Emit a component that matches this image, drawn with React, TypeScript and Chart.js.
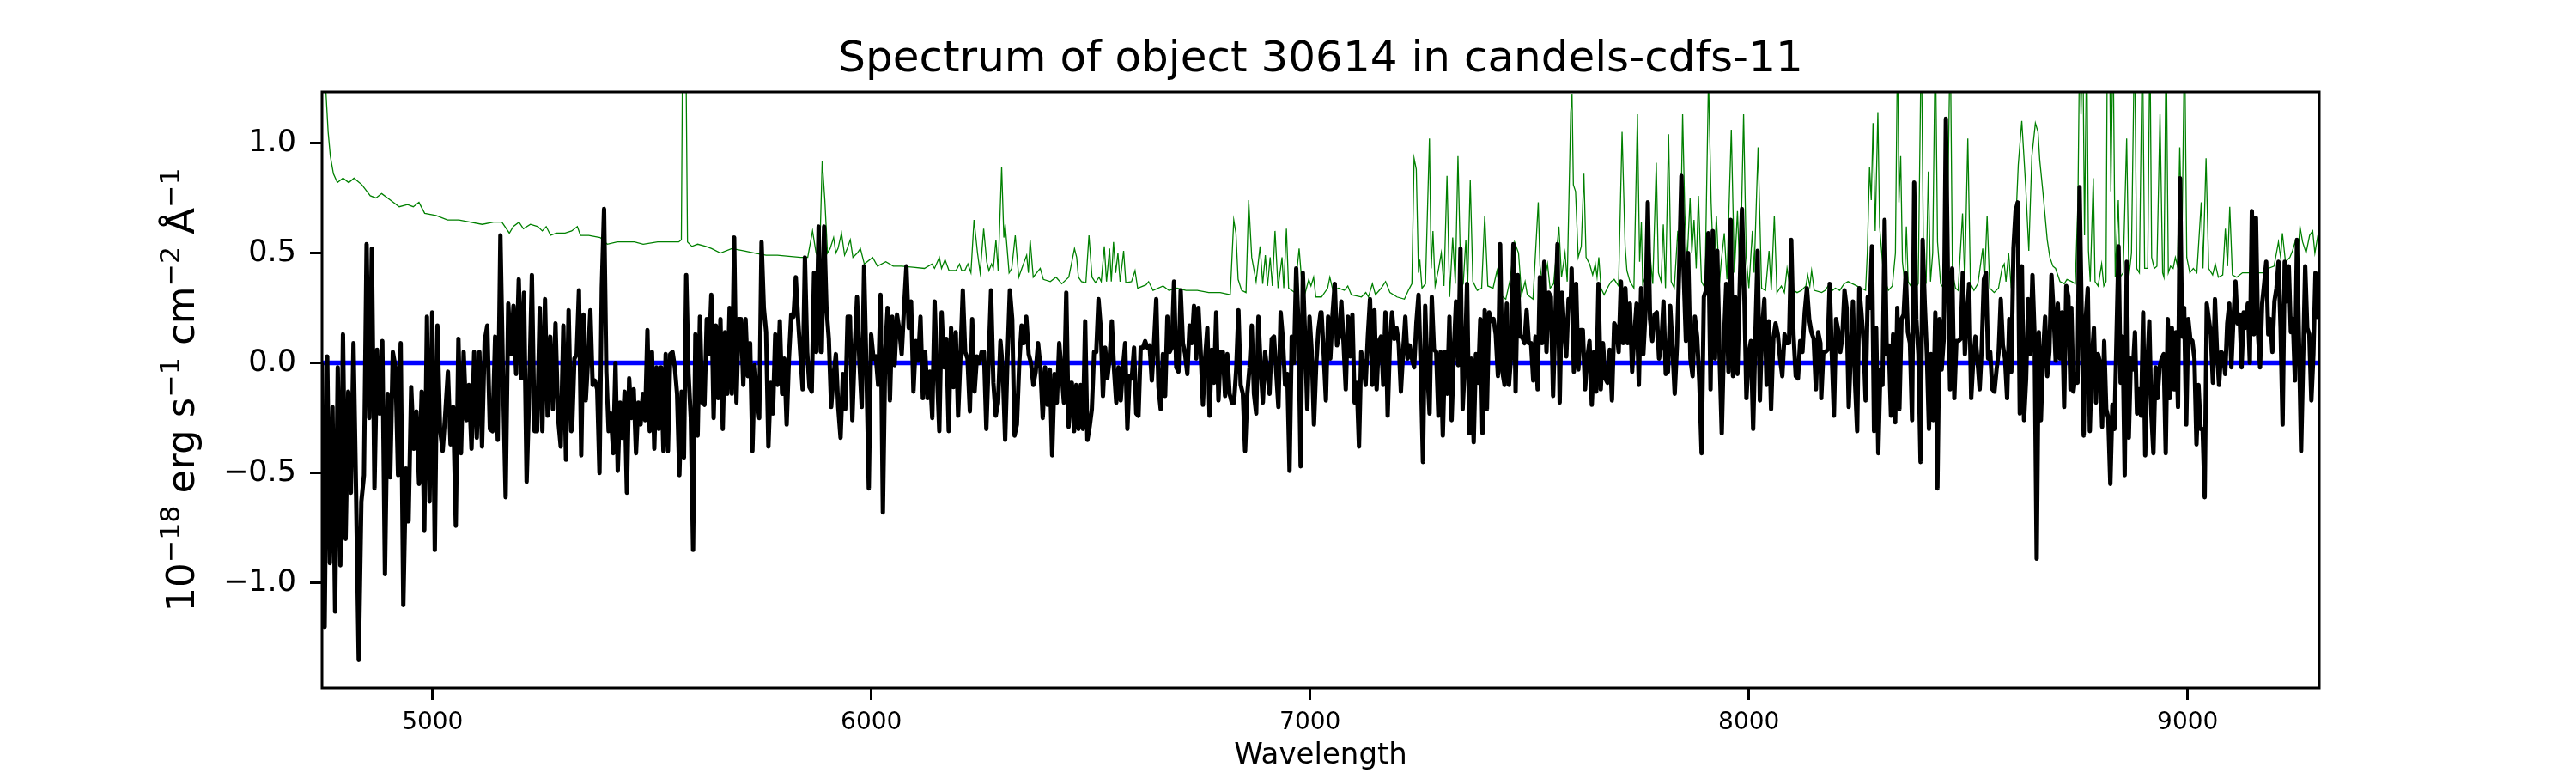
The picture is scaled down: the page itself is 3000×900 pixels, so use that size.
import React, { useEffect, useRef } from 'react';
import { Chart, registerables } from 'chart.js';

Chart.register(...registerables);

const TITLE = 'Spectrum of object 30614 in candels-cdfs-11';
const X_LABEL = 'Wavelength';
const Y_LABEL_PARTS: { text: string; sup: boolean }[] = [
  { text: '10', sup: false },
  { text: '\u221218', sup: true },
  { text: ' erg s', sup: false },
  { text: '\u22121', sup: true },
  { text: ' cm', sup: false },
  { text: '\u22122', sup: true },
  { text: ' \u00C5', sup: false },
  { text: '\u22121', sup: true },
];

const X_MIN = 4748;
const X_MAX = 9300;
const Y_MIN = -1.477;
const Y_MAX = 1.232;
const X_TICKS = [5000, 6000, 7000, 8000, 9000];
const Y_TICKS = [-1.0, -0.5, 0.0, 0.5, 1.0];
const ZERO_LEVEL = 0;

// wavelength span covered by each block of flux samples (samples evenly spread in the block)
const SEGMENT_RANGES: [number, number][] = [
  [4748, 5316], [5318, 5885], [5887, 6455], [6457, 7024],
  [7026, 7594], [7596, 8163], [8165, 8733], [8735, 9296],
];

const FLUX_SEG1 = [0.0, -1.2, 0.03, -0.91, -0.2, -1.13, -0.02, -0.92, 0.13, -0.8, -0.13, -0.59, 0.09, -0.6, -1.35, -0.63, -0.51, 0.54, -0.25, 0.52, -0.57, 0.06, -0.23, 0.1, -0.96, -0.14, -0.52, 0.05, -0.02, -0.51, 0.09, -1.1, -0.48, -0.72, -0.11, -0.39, -0.22, -0.55, -0.13, -0.76, 0.21, -0.63, 0.23, -0.85, 0.17, -0.3, -0.4, -0.23, -0.04, -0.37, -0.2, -0.74, 0.11, -0.41, 0.05, -0.26, -0.1, -0.39, 0.05, -0.34, 0.05, -0.38, 0.1, 0.17, -0.3, -0.31, 0.12, -0.35, 0.58, -0.07, -0.61, 0.27, 0.04, 0.26, -0.05, 0.38, -0.07, 0.32, -0.54, -0.13, 0.4, -0.31, -0.31, 0.25, -0.31, 0.29, -0.24, 0.12, -0.21, 0.18, -0.25, -0.38, 0.17, -0.44, 0.24, -0.31];
const FLUX_SEG2 = [-0.3, 0.02, 0.04, 0.33, -0.42, 0.22, -0.17, 0.02, 0.24, -0.1, -0.08, -0.12, -0.5, 0.34, 0.7, -0.04, -0.31, -0.23, -0.41, 0.0, -0.49, -0.18, -0.34, -0.13, -0.59, -0.07, -0.25, -0.12, -0.41, -0.18, -0.28, -0.14, -0.26, 0.15, -0.31, 0.05, -0.39, -0.02, -0.3, -0.02, -0.4, 0.04, -0.4, 0.04, 0.05, -0.02, -0.14, -0.51, -0.13, -0.43, 0.4, -0.05, -0.25, -0.85, 0.13, -0.33, 0.21, -0.18, -0.19, 0.2, 0.04, 0.31, -0.25, 0.17, -0.16, 0.2, -0.3, 0.14, -0.14, 0.25, -0.14, 0.57, -0.18, 0.2, 0.2, -0.1, 0.2, -0.06, 0.09, -0.4, -0.01, -0.16, -0.25, 0.55, 0.25, 0.14, -0.38, -0.09, -0.23, 0.13, -0.1, 0.19, -0.14, 0.02, -0.28, 0.02, 0.22, 0.21, 0.39, 0.2, 0.04, -0.12, 0.48, 0.05, -0.11, -0.13, 0.41, 0.05, 0.62, 0.05];
const FLUX_SEG3 = [0.05, 0.62, 0.25, 0.11, -0.2, -0.06, 0.04, -0.2, -0.34, -0.05, -0.21, 0.21, 0.21, -0.26, 0.06, 0.3, 0.01, -0.2, 0.44, -0.03, -0.57, 0.13, 0.02, 0.03, -0.1, 0.31, -0.68, 0.05, 0.25, -0.17, 0.21, -0.01, 0.22, 0.15, 0.04, 0.25, 0.44, 0.16, 0.28, -0.13, 0.1, 0.01, 0.21, -0.16, 0.05, -0.16, -0.04, -0.25, 0.28, -0.04, -0.31, 0.23, -0.02, 0.11, -0.31, 0.16, -0.11, 0.14, -0.24, 0.03, 0.33, 0.05, 0.02, -0.22, 0.2, -0.13, 0.03, 0.0, 0.05, 0.05, -0.3, 0.02, 0.33, -0.09, -0.24, -0.18, 0.1, -0.03, -0.35, 0.02, 0.33, 0.2, -0.33, -0.28, 0.0, 0.17, 0.09, 0.21, 0.04, 0.0, -0.1, -0.04, 0.09, -0.02, -0.25, -0.02, -0.19, -0.03, -0.42, -0.05, -0.18, 0.09, -0.04, -0.18, 0.32, -0.29, -0.09];
const FLUX_SEG4 = [-0.09, -0.31, -0.1, -0.3, -0.1, -0.3, 0.19, -0.35, -0.29, -0.21, 0.05, 0.05, 0.29, 0.16, -0.15, 0.07, -0.07, 0.02, 0.19, -0.03, -0.18, -0.02, -0.17, -0.02, 0.09, -0.3, -0.06, -0.07, 0.07, -0.23, -0.24, 0.07, 0.07, 0.1, 0.07, 0.08, -0.08, 0.09, 0.29, -0.11, -0.21, 0.04, -0.15, 0.21, 0.05, 0.07, 0.37, -0.02, -0.04, 0.33, 0.09, 0.04, -0.05, 0.17, 0.09, 0.26, 0.02, 0.25, 0.05, -0.19, 0.02, 0.16, -0.24, 0.06, -0.09, 0.23, -0.17, 0.05, 0.05, -0.15, 0.04, -0.14, -0.18, -0.18, -0.03, 0.24, -0.1, -0.14, -0.4, -0.14, -0.02, 0.17, -0.14, -0.23, 0.21, -0.02, -0.18, 0.05, -0.04, -0.14, 0.11, 0.12, -0.04, -0.2, 0.23, 0.11, -0.1, -0.05, -0.49, 0.12, 0.0, 0.43, 0.18, -0.47, 0.41, 0.12, -0.21, 0.21, 0.05, -0.28, -0.01, 0.15, 0.23];
const FLUX_SEG5 = [0.23, 0.04, -0.17, 0.21, 0.02, 0.22, 0.36, 0.08, 0.12, 0.28, 0.09, -0.12, 0.21, 0.03, 0.22, -0.18, -0.09, -0.38, 0.05, -0.01, -0.1, 0.12, 0.29, -0.1, 0.24, -0.12, 0.1, 0.12, -0.1, 0.23, -0.24, 0.09, 0.23, 0.11, 0.16, 0.09, -0.13, 0.05, 0.21, 0.02, 0.08, 0.02, -0.02, 0.18, 0.31, -0.02, -0.45, 0.26, -0.04, -0.23, 0.3, 0.06, 0.05, -0.24, 0.05, -0.33, 0.05, -0.14, 0.21, -0.26, 0.05, 0.28, -0.01, 0.52, -0.21, 0.0, 0.36, -0.32, 0.02, -0.36, 0.04, -0.09, 0.2, -0.32, 0.24, -0.21, 0.23, 0.19, 0.2, 0.13, -0.06, 0.54, -0.04, -0.1, 0.27, -0.1, 0.04, 0.54, -0.13, 0.4, 0.12, 0.12, 0.09, 0.24, 0.09, 0.09, -0.08, 0.12, -0.12, 0.39, 0.09, 0.46, 0.05, 0.32, 0.3, -0.15, 0.2, 0.54, -0.18, 0.32, 0.16, 0.03, 0.29, 0.27];
const FLUX_SEG6 = [0.43, -0.04, 0.36, -0.03, 0.15, 0.15, -0.12, 0.02, 0.1, -0.19, 0.05, -0.13, 0.36, -0.12, 0.09, -0.07, -0.09, 0.06, -0.17, 0.18, 0.16, 0.05, 0.37, 0.09, 0.34, 0.09, 0.27, -0.04, 0.13, 0.27, -0.1, 0.34, 0.04, 0.24, 0.73, 0.2, 0.1, 0.22, 0.23, 0.02, 0.08, 0.28, -0.05, -0.04, 0.26, 0.07, -0.14, 0.08, 0.43, 0.85, 0.41, 0.1, 0.5, 0.02, -0.06, 0.21, 0.12, -0.09, -0.41, 0.3, 0.33, 0.59, -0.12, 0.6, 0.02, 0.51, 0.04, -0.32, 0.11, 0.36, -0.04, 0.65, -0.06, 0.3, -0.05, 0.34, 0.7, 0.34, -0.16, 0.04, 0.1, -0.3, 0.13, 0.51, -0.17, 0.16, 0.29, -0.1, 0.19, -0.21, 0.11, 0.18, 0.13, 0.02, -0.06, 0.13, 0.09, 0.09, 0.56, 0.13, -0.06, -0.07, 0.1, 0.05, 0.23, 0.34, 0.2, 0.14, 0.11, -0.12, 0.14, 0.09];
const FLUX_SEG7 = [-0.16, 0.05, 0.05, 0.06, 0.36, 0.04, -0.24, 0.2, 0.15, 0.05, 0.12, 0.33, 0.25, -0.2, 0.05, 0.28, -0.09, -0.31, 0.34, 0.23, 0.1, -0.17, 0.3, 0.25, 0.53, -0.31, 0.16, -0.41, -0.03, -0.1, 0.65, 0.04, 0.08, -0.24, 0.13, -0.27, 0.25, -0.21, 0.2, 0.22, 0.41, 0.14, 0.09, -0.26, 0.82, 0.2, 0.04, -0.45, 0.56, 0.27, 0.04, -0.3, 0.04, -0.26, 0.23, -0.57, 0.2, -0.03, 0.11, 1.11, 0.37, -0.12, 0.43, -0.16, 0.1, 0.1, 0.11, 0.41, 0.04, 0.21, 0.36, -0.16, 0.02, 0.12, 0.01, -0.12, 0.07, 0.38, 0.41, 0.02, 0.05, -0.12, -0.13, -0.03, 0.05, 0.29, 0.08, 0.02, -0.16, 0.2, -0.04, 0.52, 0.69, 0.73, -0.23, 0.44, -0.26, -0.07, 0.29, 0.04, 0.4, 0.12, -0.89, 0.14, -0.26, 0.04, 0.21, -0.06, 0.05, 0.4, 0.23, 0.01, 0.27, 0.02, 0.23, -0.2, 0.35, 0.3, -0.12];
const FLUX_SEG8 = [0.25, -0.13, -0.05, -0.09, 0.8, 0.23, -0.33, 0.2, 0.34, -0.31, 0.02, 0.16, -0.18, 0.04, 0.0, -0.29, 0.1, -0.21, -0.25, -0.55, -0.19, -0.3, 0.11, 0.53, -0.09, 0.12, -0.51, 0.46, -0.34, 0.02, -0.03, 0.14, -0.23, -0.12, -0.24, 0.23, -0.42, -0.02, 0.19, -0.23, -0.41, -0.02, -0.16, -0.02, 0.02, 0.04, -0.41, 0.2, -0.16, 0.16, -0.12, 0.14, -0.2, 0.84, 0.12, 0.25, -0.28, 0.2, 0.11, 0.1, 0.02, -0.37, -0.1, -0.3, -0.3, -0.61, 0.27, 0.2, 0.13, -0.09, 0.29, 0.05, -0.1, 0.05, 0.04, -0.05, 0.18, 0.27, -0.02, 0.2, 0.37, 0.18, 0.22, -0.02, 0.23, 0.16, 0.27, 0.0, 0.69, 0.13, 0.66, 0.13, -0.02, 0.27, 0.36, 0.46, 0.13, 0.2, 0.05, 0.28, 0.34, 0.46, 0.16, -0.28, 0.46, 0.28, 0.44, 0.14, 0.2, -0.08, 0.56, 0.09, -0.4, 0.02, 0.44, 0.16, 0.13, -0.17, 0.04, 0.41, 0.2];

const FLUX_SEGMENTS = [FLUX_SEG1, FLUX_SEG2, FLUX_SEG3, FLUX_SEG4, FLUX_SEG5, FLUX_SEG6, FLUX_SEG7, FLUX_SEG8];

// error spectrum: [wavelength, value]
const ERROR_SPECTRUM: [number, number][] = [
  [4749, 2.0], [4757, 1.23], [4762, 1.05], [4767, 0.94], [4774, 0.86], [4783, 0.82], [4796, 0.84], [4809, 0.82], [4821, 0.84], [4839, 0.81], [4858, 0.76], [4871, 0.75], [4884, 0.77], [4904, 0.74], [4924, 0.71], [4943, 0.72], [4956, 0.71], [4969, 0.73], [4982, 0.68], [5008, 0.67], [5034, 0.65], [5060, 0.65], [5086, 0.64], [5113, 0.63], [5139, 0.64], [5158, 0.64], [5175, 0.59], [5184, 0.62], [5197, 0.64], [5207, 0.61], [5223, 0.63], [5240, 0.62], [5250, 0.6], [5259, 0.62], [5269, 0.58], [5282, 0.59], [5302, 0.59], [5317, 0.6],
  [5330, 0.62], [5337, 0.58], [5356, 0.58], [5382, 0.57], [5398, 0.54], [5421, 0.55], [5441, 0.55], [5460, 0.55], [5480, 0.54], [5513, 0.55], [5545, 0.55], [5561, 0.55], [5567, 0.56], [5570, 1.5], [5577, 1.5], [5581, 0.55], [5591, 0.53], [5604, 0.54], [5623, 0.53], [5636, 0.52], [5656, 0.5], [5682, 0.52], [5708, 0.51], [5734, 0.5], [5760, 0.49], [5786, 0.49], [5812, 0.485], [5839, 0.48], [5855, 0.48], [5866, 0.6], [5874, 0.5], [5879, 0.48], [5884, 0.62], [5888, 0.92],
  [5894, 0.74], [5900, 0.5], [5906, 0.52], [5914, 0.57], [5919, 0.5], [5924, 0.52], [5932, 0.59], [5939, 0.49], [5945, 0.52], [5952, 0.56], [5958, 0.48], [5968, 0.5], [5975, 0.52], [5984, 0.45], [6003, 0.48], [6014, 0.44], [6033, 0.46], [6050, 0.44], [6069, 0.44], [6095, 0.435], [6121, 0.43], [6138, 0.45], [6144, 0.43], [6155, 0.48], [6160, 0.43], [6168, 0.47], [6177, 0.42], [6193, 0.42], [6201, 0.45], [6206, 0.42], [6213, 0.42], [6220, 0.45], [6227, 0.41], [6234, 0.65], [6242, 0.5], [6248, 0.41], [6256, 0.61], [6263, 0.46], [6268, 0.42], [6274, 0.45], [6278, 0.43], [6284, 0.56], [6289, 0.42], [6297, 0.89], [6302, 0.57], [6305, 0.63], [6314, 0.41], [6320, 0.43], [6328, 0.58], [6336, 0.39], [6343, 0.43], [6354, 0.49], [6358, 0.41], [6362, 0.56], [6369, 0.39], [6385, 0.43], [6392, 0.38], [6408, 0.37], [6421, 0.39], [6434, 0.36], [6450, 0.39],
  [6463, 0.52], [6468, 0.48], [6472, 0.39], [6479, 0.37], [6489, 0.365], [6496, 0.58], [6503, 0.39], [6511, 0.365], [6519, 0.39], [6524, 0.37], [6531, 0.53], [6536, 0.37], [6543, 0.52], [6547, 0.37], [6552, 0.55], [6557, 0.41], [6562, 0.5], [6567, 0.37], [6575, 0.51], [6580, 0.365], [6593, 0.37], [6601, 0.42], [6607, 0.34], [6626, 0.355], [6632, 0.37], [6642, 0.33], [6665, 0.35], [6678, 0.33], [6697, 0.34], [6717, 0.33], [6743, 0.33], [6769, 0.32], [6795, 0.32], [6818, 0.31], [6826, 0.65], [6831, 0.59], [6836, 0.38], [6844, 0.33], [6854, 0.32], [6860, 0.74], [6867, 0.48], [6877, 0.37], [6886, 0.53], [6892, 0.36], [6898, 0.49], [6903, 0.35], [6909, 0.48], [6914, 0.35], [6920, 0.6], [6927, 0.34], [6936, 0.48], [6940, 0.34], [6946, 0.61], [6951, 0.34], [6965, 0.32], [6975, 0.52], [6981, 0.37], [6989, 0.32], [6997, 0.38], [7002, 0.35], [7008, 0.39], [7013, 0.3], [7026, 0.3],
  [7040, 0.34], [7045, 0.39], [7052, 0.33], [7065, 0.34], [7078, 0.33], [7086, 0.35], [7094, 0.31], [7117, 0.3], [7127, 0.32], [7133, 0.3], [7142, 0.36], [7149, 0.31], [7162, 0.34], [7172, 0.37], [7182, 0.32], [7198, 0.3], [7215, 0.29], [7224, 0.33], [7232, 0.36], [7237, 0.93], [7242, 0.88], [7247, 0.41], [7250, 0.47], [7255, 0.34], [7263, 0.36], [7272, 1.02], [7276, 0.43], [7280, 0.6], [7285, 0.35], [7293, 0.43], [7299, 0.5], [7305, 0.35], [7312, 0.85], [7318, 0.3], [7325, 0.57], [7331, 0.36], [7337, 0.94], [7344, 0.34], [7349, 0.36], [7355, 0.56], [7359, 0.34], [7365, 0.83], [7371, 0.37], [7381, 0.33], [7391, 0.34], [7398, 0.67], [7405, 0.35], [7417, 0.34], [7426, 0.42], [7433, 0.31], [7446, 0.29], [7456, 0.38], [7466, 0.55], [7475, 0.5], [7482, 0.31], [7490, 0.37], [7495, 0.31], [7508, 0.29], [7520, 0.73], [7524, 0.44], [7531, 0.34], [7541, 0.45], [7547, 0.34], [7555, 0.36], [7567, 0.62], [7573, 0.39], [7581, 0.5], [7586, 0.37], [7594, 1.14], [7597, 1.22],
  [7600, 0.81], [7605, 0.78], [7611, 0.48], [7618, 0.53], [7624, 0.86], [7629, 0.48], [7637, 0.45], [7644, 0.4], [7650, 0.45], [7654, 0.39], [7658, 0.48], [7663, 0.34], [7670, 0.31], [7680, 0.35], [7686, 0.37], [7693, 0.38], [7703, 0.35], [7711, 1.05], [7718, 0.53], [7722, 0.42], [7729, 0.37], [7738, 0.34], [7746, 1.13], [7751, 0.46], [7755, 0.64], [7758, 0.36], [7768, 0.41], [7774, 0.51], [7781, 0.36], [7789, 0.91], [7794, 0.41], [7800, 0.37], [7805, 0.63], [7810, 0.34], [7817, 1.04], [7823, 0.37], [7830, 0.34], [7838, 0.6], [7843, 0.41], [7849, 1.13], [7854, 0.68], [7859, 0.45], [7866, 0.75], [7870, 0.5], [7875, 0.65], [7880, 0.43], [7885, 0.76], [7892, 0.37], [7900, 0.34], [7908, 1.3], [7914, 0.73], [7920, 0.41], [7926, 0.67], [7933, 0.36], [7937, 0.46], [7944, 0.59], [7950, 0.38], [7960, 1.06], [7967, 0.41], [7974, 0.69], [7980, 0.37], [7988, 1.13], [7994, 0.48], [8000, 0.34], [8008, 0.6], [8012, 0.41], [8021, 0.98], [8029, 0.34], [8038, 0.33], [8046, 0.51], [8051, 0.33], [8058, 0.67], [8064, 0.32], [8074, 0.35], [8081, 0.32], [8087, 0.43], [8094, 0.34], [8110, 0.32], [8120, 0.33], [8130, 0.35], [8134, 0.4], [8139, 0.35], [8143, 0.42], [8149, 0.33], [8166, 0.32],
  [8174, 0.33], [8184, 0.36], [8191, 0.33], [8197, 0.34], [8207, 0.33], [8217, 0.36], [8226, 0.37], [8236, 0.36], [8246, 0.35], [8256, 0.34], [8266, 0.33], [8270, 0.5], [8275, 0.89], [8279, 0.74], [8283, 1.09], [8288, 0.6], [8294, 1.14], [8298, 0.62], [8305, 0.45], [8311, 0.37], [8318, 0.33], [8327, 0.35], [8334, 0.5], [8339, 1.5], [8342, 0.73], [8346, 0.94], [8350, 0.46], [8355, 0.37], [8359, 0.62], [8363, 0.37], [8372, 0.34], [8380, 0.34], [8386, 0.36], [8393, 1.5], [8398, 0.48], [8404, 0.36], [8409, 0.87], [8414, 0.37], [8419, 0.5], [8425, 1.5], [8430, 0.55], [8437, 0.36], [8444, 0.34], [8451, 0.41], [8459, 1.5], [8464, 0.41], [8471, 0.34], [8477, 0.33], [8487, 0.68], [8492, 0.37], [8499, 1.02], [8505, 0.36], [8513, 0.33], [8522, 0.36], [8533, 0.52], [8537, 0.37], [8543, 0.67], [8549, 0.34], [8559, 0.32], [8569, 0.34], [8577, 0.43], [8582, 0.45], [8586, 0.37], [8592, 0.5], [8598, 0.34], [8608, 0.62], [8614, 0.9], [8622, 1.1], [8631, 0.8], [8638, 0.51], [8645, 0.94], [8653, 1.09], [8659, 1.05], [8663, 0.92], [8670, 0.78], [8680, 0.56], [8686, 0.48], [8693, 0.44], [8699, 0.43], [8709, 0.37], [8719, 0.36], [8725, 0.38], [8736, 0.37],
  [8744, 0.36], [8750, 0.73], [8754, 1.5], [8757, 1.13], [8761, 1.5], [8765, 0.58], [8770, 1.5], [8774, 0.51], [8778, 0.37], [8785, 0.84], [8789, 0.37], [8796, 0.35], [8804, 0.45], [8809, 0.35], [8814, 0.37], [8817, 1.5], [8822, 1.5], [8825, 0.78], [8830, 1.5], [8835, 0.39], [8842, 0.74], [8846, 0.39], [8853, 0.41], [8861, 1.02], [8866, 0.39], [8872, 0.5], [8879, 1.5], [8884, 0.43], [8890, 0.41], [8897, 1.5], [8902, 0.43], [8909, 0.43], [8914, 1.5], [8918, 0.48], [8924, 0.43], [8930, 0.44], [8937, 1.13], [8943, 0.41], [8946, 0.39], [8951, 1.5], [8956, 0.41], [8961, 0.44], [8967, 0.43], [8972, 0.48], [8977, 0.44], [8982, 0.98], [8987, 0.55], [8993, 1.5], [8998, 0.48], [9005, 0.41], [9013, 0.43], [9021, 0.41], [9031, 0.73], [9035, 0.43], [9042, 0.93], [9048, 0.43], [9057, 0.4], [9063, 0.45], [9070, 0.39], [9080, 0.4], [9086, 0.61], [9091, 0.44], [9096, 0.71], [9102, 0.4], [9112, 0.39], [9125, 0.41], [9138, 0.41], [9158, 0.41], [9171, 0.41], [9184, 0.43], [9197, 0.44], [9207, 0.55], [9212, 0.48], [9216, 0.59], [9223, 0.46], [9233, 0.48], [9239, 0.51], [9245, 0.55], [9251, 0.48], [9256, 0.62], [9262, 0.55], [9270, 0.5], [9278, 0.58], [9285, 0.6], [9290, 0.5], [9296, 0.57], [9305, 0.5],
];

const FONT = '"DejaVu Sans", sans-serif';

function buildFluxPoints() {
  const pts: { x: number; y: number }[] = [];
  FLUX_SEGMENTS.forEach((seg, k) => {
    const [a, b] = SEGMENT_RANGES[k];
    const n = seg.length;
    seg.forEach((v, i) => {
      pts.push({ x: a + (i * (b - a)) / (n - 1), y: v });
    });
  });
  return pts;
}

const textPlugin = {
  id: 'mplTexts',
  afterDatasetsDraw(chart: any) {
    const { ctx, chartArea } = chart;
    const { left, top, right, bottom } = chartArea;
    ctx.save();
    // frame
    ctx.strokeStyle = '#000';
    ctx.lineWidth = 3;
    ctx.strokeRect(left, top, right - left, bottom - top);
    ctx.fillStyle = '#000';
    const cx = (left + right) / 2;
    // title
    ctx.font = `50px ${FONT}`;
    ctx.textAlign = 'center';
    ctx.textBaseline = 'alphabetic';
    ctx.fillText(TITLE, cx, 83);
    // x label
    ctx.font = `34px ${FONT}`;
    ctx.fillText(X_LABEL, cx, 889);
    // y label (rotated, with superscripts)
    const main = 45;
    const sup = 31.5;
    const raise = 17;
    let total = 0;
    Y_LABEL_PARTS.forEach((p) => {
      ctx.font = `${p.sup ? sup : main}px ${FONT}`;
      total += ctx.measureText(p.text).width;
    });
    ctx.translate(226, (top + bottom) / 2);
    ctx.rotate(-Math.PI / 2);
    ctx.textAlign = 'left';
    let x = -total / 2;
    Y_LABEL_PARTS.forEach((p) => {
      ctx.font = `${p.sup ? sup : main}px ${FONT}`;
      ctx.fillText(p.text, x, p.sup ? -raise : 0);
      x += ctx.measureText(p.text).width;
    });
    ctx.restore();
  },
};

export default function App() {
  const ref = useRef<HTMLCanvasElement | null>(null);
  useEffect(() => {
    document.body.style.margin = '0';
    if (!ref.current) return;
    const chart = new Chart(ref.current, {
      type: 'line',
      data: {
        datasets: [
          {
            label: 'flux',
            data: buildFluxPoints(),
            borderColor: '#000000',
            borderWidth: 5,
            borderJoinStyle: 'round',
            pointRadius: 0,
            tension: 0,
          },
          {
            label: 'zero',
            data: [{ x: X_MIN, y: ZERO_LEVEL }, { x: X_MAX, y: ZERO_LEVEL }],
            borderColor: '#0000ff',
            borderWidth: 5.5,
            pointRadius: 0,
            tension: 0,
          },
          {
            label: 'error',
            data: ERROR_SPECTRUM.map(([w, v]) => ({ x: w, y: v })),
            borderColor: '#008000',
            borderWidth: 1.3,
            pointRadius: 0,
            tension: 0,
          },
        ],
      },
      options: {
        animation: false,
        responsive: false,
        devicePixelRatio: 1,
        events: [],
        layout: { padding: { left: 0, right: 299, top: 107, bottom: 0 } },
        plugins: { legend: { display: false }, title: { display: false }, tooltip: { enabled: false } },
        scales: {
          x: {
            type: 'linear',
            min: X_MIN,
            max: X_MAX,
            afterBuildTicks: (s: any) => {
              s.ticks = X_TICKS.map((v) => ({ value: v }));
            },
            afterFit: (s: any) => {
              s.height = 99;
            },
            border: { display: false },
            grid: { display: true, drawOnChartArea: false, drawTicks: true, tickLength: 14, tickColor: '#000', tickWidth: 3 },
            ticks: {
              color: '#000',
              font: { family: FONT, size: 28 },
              padding: 10,
              autoSkip: false,
              maxRotation: 0,
              callback: (v: any) => String(v),
            },
          },
          y: {
            type: 'linear',
            min: Y_MIN,
            max: Y_MAX,
            afterBuildTicks: (s: any) => {
              s.ticks = Y_TICKS.map((v) => ({ value: v }));
            },
            afterFit: (s: any) => {
              s.width = 375;
            },
            border: { display: false },
            grid: { display: true, drawOnChartArea: false, drawTicks: true, tickLength: 14, tickColor: '#000', tickWidth: 3 },
            ticks: {
              color: '#000',
              font: { family: FONT, size: 35 },
              padding: 16,
              autoSkip: false,
              callback: (v: any) => (v < 0 ? '\u2212' : '') + Math.abs(v).toFixed(1),
            },
          },
        },
      },
      plugins: [textPlugin],
    });
    return () => chart.destroy();
  }, []);
  return <canvas ref={ref} width={3000} height={900} style={{ display: 'block', width: 3000, height: 900 }} />;
}
